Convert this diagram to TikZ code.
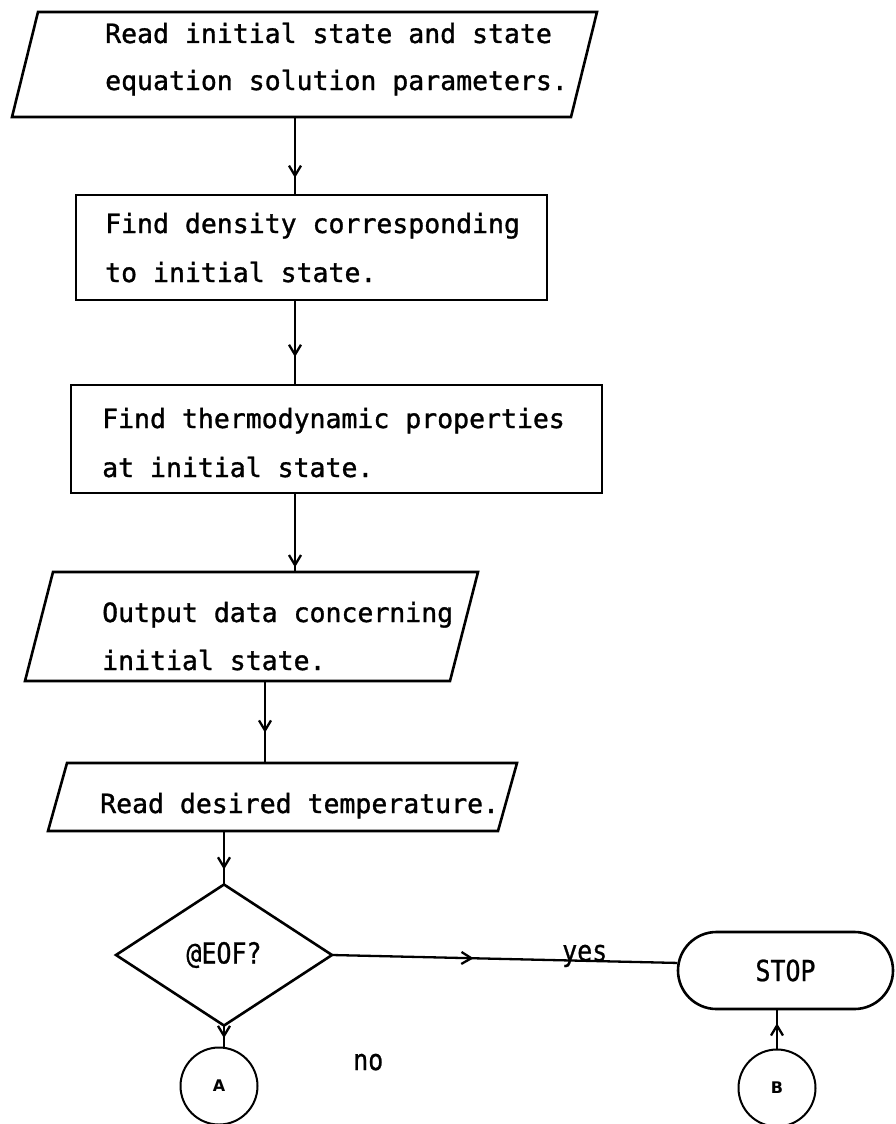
\documentclass[tikz,border=0pt]{standalone}
\usepackage{fontspec}
\usetikzlibrary{arrows.meta,decorations.markings,shapes.misc,calc}
\newfontfamily\monofnt[FakeStretch=1.0,FakeBold=1.2]{DejaVu Sans Mono}
\newfontfamily\lblfnt[FakeStretch=0.86,FakeBold=0.8]{DejaVu Sans Mono}
\newfontfamily\circfnt{DejaVu Sans}
\tikzset{
  geom/.style={rectangle, inner sep=0pt, outer sep=0pt},
  shp/.style={line width=2.6pt, line join=miter},
  conn/.style={line width=2.3pt},
  tipat/.style={postaction={decorate}, decoration={markings, mark=at position #1 with {\arrow{Straight Barb[length=10pt,width=12pt]}}}},
  txt/.style={anchor=base west, inner sep=0pt, font=\monofnt\fontsize{26.5pt}{30pt}\selectfont},
  lbl/.style={inner sep=0pt, font=\lblfnt\fontsize{29pt}{34pt}\selectfont},
  conncirc/.style={circle, draw, line width=2pt, minimum size=77pt, inner sep=0pt, font=\circfnt\bfseries\fontsize{16pt}{19pt}\selectfont},
}
\begin{document}
\begin{tikzpicture}[x=1pt,y=-1pt]
\fill[white] (0,0) rectangle (895,1124);
\useasboundingbox (0,0) rectangle (895,1124);

% shapes
\node[geom, minimum width=585pt, minimum height=105pt] (p1) at (304.5,64.5) {};
\draw[shp] ([xshift=26pt]p1.north west) -- (p1.north east) -- ([xshift=-26pt]p1.south east) -- (p1.south west) -- cycle;

\node[geom, draw, shp, minimum width=471pt, minimum height=105pt] (b2) at (311.5,247.5) {};
\node[geom, draw, shp, minimum width=531pt, minimum height=108pt] (b3) at (336.5,439) {};

\node[geom, minimum width=453pt, minimum height=109pt] (p4) at (251.5,626.5) {};
\draw[shp] ([xshift=28pt]p4.north west) -- (p4.north east) -- ([xshift=-28pt]p4.south east) -- (p4.south west) -- cycle;

\node[geom, minimum width=469pt, minimum height=68pt] (p5) at (282.5,797) {};
\draw[shp] ([xshift=19pt]p5.north west) -- (p5.north east) -- ([xshift=-19pt]p5.south east) -- (p5.south west) -- cycle;

\node[geom, lbl, minimum width=216pt, minimum height=141pt] (d) at (224,955) {@EOF?};
\draw[shp] (d.north) -- (d.east) -- (d.south) -- (d.west) -- cycle;

\node[rounded rectangle, draw, shp, minimum width=215pt, minimum height=77pt, inner sep=0pt, lbl] (stop) at (785.5,970.5) {STOP};

\node[conncirc] (A) at (219,1086) {A};
\node[conncirc] (B) at (777,1088) {B};

% texts
\node[txt] (t1a) at (105,43) {Read initial state and state};
\node[txt] (t1b) at (105,90) {equation solution parameters.};
\node[txt] (t2a) at (105,233) {Find density corresponding};
\node[txt] (t2b) at (105,282) {to initial state.};
\node[txt] (t3a) at (102,428) {Find thermodynamic properties};
\node[txt] (t3b) at (102,477) {at initial state.};
\node[txt] (t4a) at (102,622) {Output data concerning};
\node[txt] (t4b) at (102,670) {initial state.};
\node[txt] (t5a) at (100,813) {Read desired temperature.};
\node[lbl, anchor=base west] (yes) at (562,961) {yes};
\node[lbl, anchor=base west] (no) at (353,1070) {no};

% connectors
\coordinate (xa) at (295,0);
\coordinate (xb) at (265,0);
\draw[conn,tipat=0.78] (p1.south -| xa) -- (b2.north -| xa);
\draw[conn,tipat=0.67] (b2.south -| xa) -- (b3.north -| xa);
\draw[conn,tipat=0.94] (b3.south -| xa) -- (p4.north -| xa);
\draw[conn,tipat=0.63] (p4.south -| xb) -- (p5.north -| xb);
\draw[conn,tipat=0.72] (p5.south -| d.north) -- (d.north);
\draw[conn,tipat=0.6] (d.south) -- (d.south |- A.north);
\draw[conn,tipat=0.41] (d.east) -- (stop.176);
\draw[conn,tipat=0.66] (B.north) -- (B.north |- stop.south);
\end{tikzpicture}
\end{document}
